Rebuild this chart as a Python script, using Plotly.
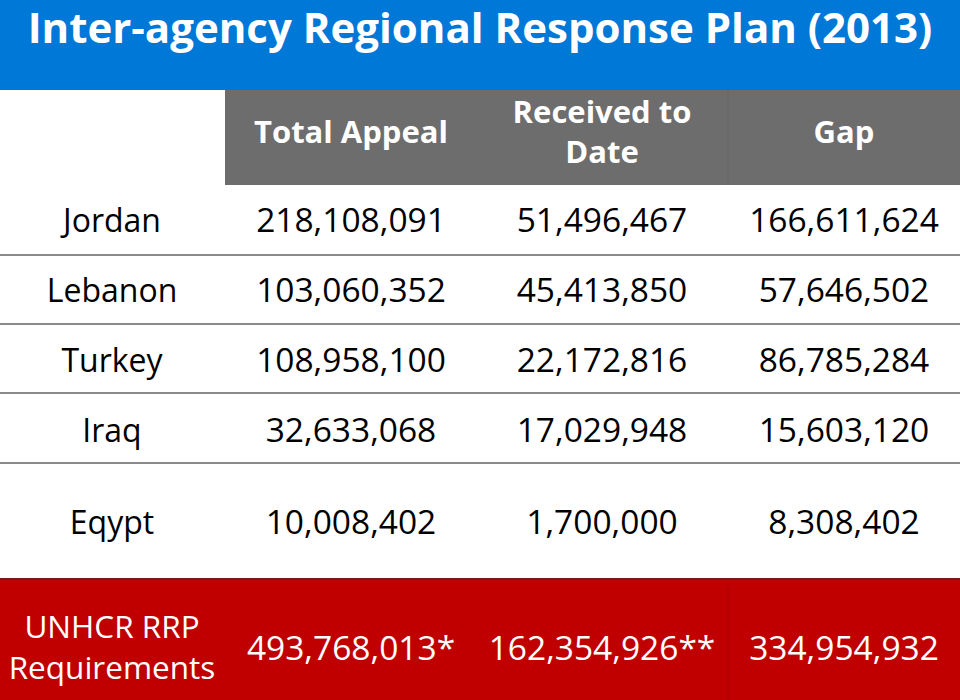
import plotly.graph_objects as go

title = "Inter-agency Regional Response Plan (2013)"
headers = ["Total Appeal", "Received to<br>Date", "Gap"]
countries = ["Jordan", "Lebanon", "Turkey", "Iraq", "Eqypt"]
total_appeal = [218108091, 103060352, 108958100, 32633068, 10008402]
received = [51496467, 45413850, 22172816, 17029948, 1700000]
gap = [166611624, 57646502, 86785284, 15603120, 8308402]
total_label = "UNHCR RRP<br>Requirements"
total_values = [493768013, 162354926, 334954932]
total_marks = ["*", "**", ""]

W, H = 960, 700
FONT = "Open Sans"
BLUE = "#0078D7"
GRAY = "#6D6D6D"
RED = "#C00000"

col_x = [112, 351, 602, 844]
row_y = [224, 294, 364, 434, 526]
row_lines = [255, 324, 393, 463]
header_y = 135
total_y = 652

fmt = lambda v: f"{v:,}"

fig = go.Figure()

shapes = [
    dict(type="rect", x0=0, x1=W, y0=0, y1=90, fillcolor=BLUE, line_width=0, layer="below"),
    dict(type="rect", x0=225, x1=W, y0=90, y1=185, fillcolor=GRAY, line_width=0, layer="below"),
    dict(type="line", x0=728, x1=728, y0=90, y1=185, line=dict(color="#666666", width=1), layer="below"),
    dict(type="rect", x0=0, x1=W, y0=579, y1=H, fillcolor=RED, line_width=0, layer="below"),
    dict(type="line", x0=0, x1=W, y0=579, y1=579, line=dict(color="#7a1a10", width=2), layer="below"),
    dict(type="line", x0=728, x1=728, y0=580, y1=H, line=dict(color="#B00000", width=1), layer="below"),
]
for ly in row_lines:
    shapes.append(dict(type="line", x0=0, x1=W, y0=ly, y1=ly,
                       line=dict(color="#8A8A8A", width=2), layer="below"))


def text_trace(xs, ys, texts, size, color):
    return go.Scatter(x=xs, y=ys, mode="text", text=texts, cliponaxis=False,
                      textposition="middle center",
                      textfont=dict(family=FONT, size=size, color=color),
                      hoverinfo="skip", showlegend=False)


# title
fig.add_trace(text_trace([480], [32], [f"<b>{title}</b>"], 42, "white"))
# headers
fig.add_trace(text_trace(col_x[1:], [header_y] * 3, [f"<b>{h}</b>" for h in headers], 31, "white"))
# body rows
fig.add_trace(text_trace([col_x[0]] * len(countries), row_y, countries, 32, "black"))
for ci, series in enumerate([total_appeal, received, gap]):
    fig.add_trace(text_trace([col_x[ci + 1]] * len(series), row_y,
                             [fmt(v) for v in series], 33.5, "black"))
# totals row
fig.add_trace(text_trace([col_x[0]], [total_y - 1], [total_label], 31.5, "white"))
fig.add_trace(text_trace(col_x[1:], [total_y] * 3,
                         [fmt(v) + m for v, m in zip(total_values, total_marks)], 33.5, "white"))

fig.update_layout(
    width=W, height=H, margin=dict(l=0, r=0, t=0, b=0, pad=0),
    paper_bgcolor="white", plot_bgcolor="white",
    xaxis=dict(range=[0, W], visible=False, fixedrange=True),
    yaxis=dict(range=[H, 0], visible=False, fixedrange=True),
    shapes=shapes, showlegend=False,
)

html = fig.to_html(include_plotlyjs=True, full_html=True, config={"displayModeBar": False})
html = html.replace("<head>", "<head><style>html,body{margin:0;padding:0;overflow:hidden;}</style>", 1)
with open("out.html", "w", encoding="utf-8") as f:
    f.write(html)
